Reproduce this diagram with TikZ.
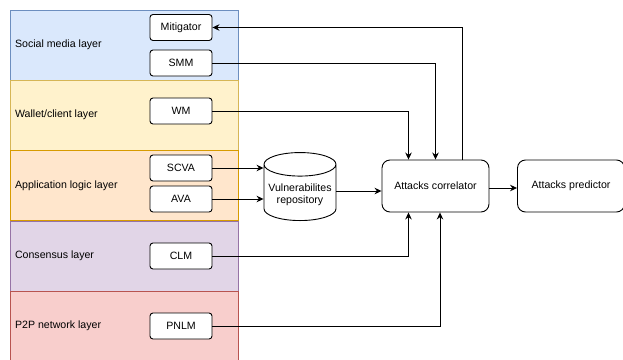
\documentclass[tikz,border=0pt]{standalone}
\usepackage{fontspec}
\setmainfont{Liberation Sans}
\usetikzlibrary{shapes.geometric,arrows.meta,positioning}

\definecolor{socialfill}{HTML}{DAE8FC}\definecolor{socialdraw}{HTML}{6C8EBF}
\definecolor{walletfill}{HTML}{FFF2CC}\definecolor{walletdraw}{HTML}{D6B656}
\definecolor{appfill}{HTML}{FFE6CC}\definecolor{appdraw}{HTML}{D79B00}
\definecolor{consfill}{HTML}{E1D5E7}\definecolor{consdraw}{HTML}{9673A6}
\definecolor{ptpfill}{HTML}{F8CECC}\definecolor{ptpdraw}{HTML}{B85450}

\tikzset{
    layer/.style = {
        rectangle,
        minimum width=228pt,
        minimum height=70pt,
        inner sep=0pt,
        line width=0.8pt
    },
    layertext/.style = {
        anchor=west,
        inner sep=0pt,
        xshift=5pt
    },
    monitor/.style = {
        rectangle,
        rounded corners=3pt,
        minimum width=62pt,
        minimum height=26pt,
        align=center,
        draw=black,
        fill=white
    },
    bigblock/.style = {
        rectangle,
        rounded corners=8pt,
        minimum width=107pt,
        minimum height=52pt,
        align=center,
        draw=black,
        fill=white
    },
    repo/.style = {
        cylinder,
        shape border rotate=90,
        aspect=0.35,
        minimum width=72pt,
        minimum height=68pt,
        inner sep=2pt,
        align=center,
        draw=black,
        fill=white
    },
    arrow/.style = {
        -{Stealth[length=7pt,width=6.5pt]}
    }
}

\begin{document}
\begin{tikzpicture}[x=1pt, y=-1pt, line width=0.9pt, every node/.style={font=\fontsize{10.6}{12.5}\selectfont}]

\useasboundingbox (0,0) rectangle (623,359);

% Layers
\node (social) [layer, fill=socialfill, draw=socialdraw] at (124,45) {};
\node (wallet) [layer, fill=walletfill, draw=walletdraw] at (124,115) {};
\node (app) [layer, fill=appfill, draw=appdraw] at (124,185.5) {};
\node (cons) [layer, fill=consfill, draw=consdraw] at (124,256) {};
\node (ptp) [layer, fill=ptpfill, draw=ptpdraw] at (124,326) {};

\node (sociallbl) [layertext] at (social.west) {Social media layer};
\node (walletlbl) [layertext] at (wallet.west) {Wallet/client layer};
\node (applbl) [layertext] at (app.west) {Application logic layer};
\node (conslbl) [layertext] at (cons.west) {Consensus layer};
\node (ptplbl) [layertext] at (ptp.west) {P2P network layer};

% Monitors
\node (mitigator) [monitor] at (181,27.5) {Mitigator};
\node (smm) [monitor] at (181,63) {SMM};
\node (wm) [monitor] at (181,111) {WM};
\node (scva) [monitor] at (181,168) {SCVA};
\node (ava) [monitor] at (181,199) {AVA};
\node (clm) [monitor] at (181,256) {CLM};
\node (pnlm) [monitor] at (181,326) {PNLM};

\node (vulnrepo) [repo, anchor=south] at (300,221) {Vulnerabilites\\repository};
\node (correlator) [bigblock] at (435.5,186) {Attacks correlator};
\node (predictor) [bigblock] at (571,186) {Attacks predictor};

% Arrows
\draw [arrow] ([xshift=26.5pt]correlator.north) |- (mitigator.east);
\draw [arrow] (smm.east) -| (correlator.north);
\draw [arrow] (wm.east) -| ([xshift=-27pt]correlator.north);
\draw [arrow] (scva.east) -- (scva.east -| vulnrepo.west);
\draw [arrow] (ava.east) -- (ava.east -| vulnrepo.west);
\draw [arrow] (vulnrepo.east |- 0,191) -- (correlator.west |- 0,191);
\draw [arrow] ([yshift=-2pt]correlator.east) -- ([yshift=-2pt]predictor.west);
\draw [arrow] (clm.east) -| ([xshift=-27pt]correlator.south);
\draw [arrow] (pnlm.east) -| ([xshift=4.5pt]correlator.south);

\end{tikzpicture}
\end{document}
